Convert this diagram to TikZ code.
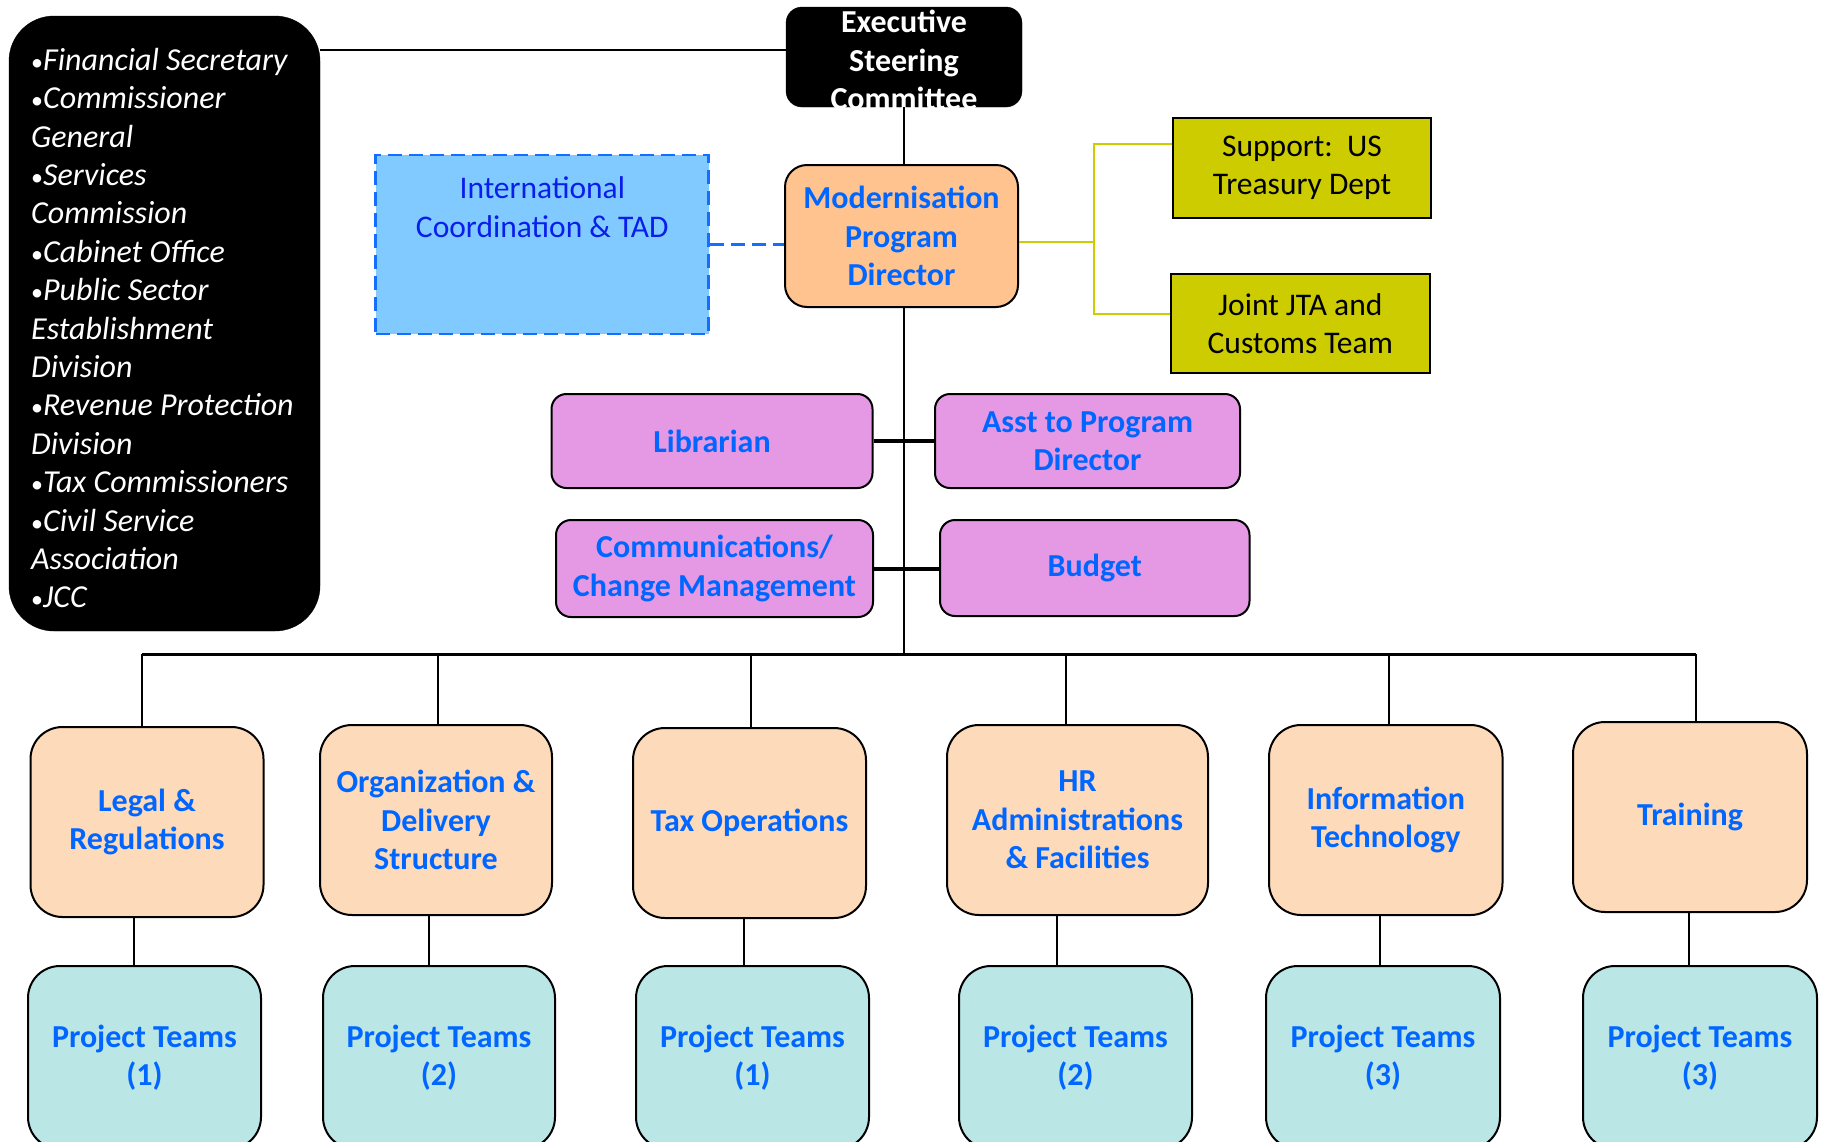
\documentclass[tikz,border=0pt]{standalone}
\usepackage{fontspec}
\setmainfont{Carlito}
\definecolor{mpdfill}{RGB}{255,195,143}
\definecolor{peach}{RGB}{253,218,185}
\definecolor{ptfill}{RGB}{186,230,230}
\definecolor{purp}{RGB}{229,153,229}
\definecolor{olive}{RGB}{204,204,0}
\definecolor{intlfill}{RGB}{128,202,255}
\definecolor{tblue}{RGB}{0,102,255}
\definecolor{iblue}{RGB}{10,30,235}
\definecolor{dblue}{RGB}{20,110,255}
\newcommand{\bul}{{\fontsize{24}{0}\selectfont\upshape •}}
\begin{document}
\begin{tikzpicture}[x=1pt,y=-1pt,
  txt/.style={font=\fontsize{31.5}{38.4}\selectfont, align=center, inner sep=0pt},
  bbox/.style={draw=black, line width=2pt, inner sep=0pt, align=center,
     font=\fontsize{32}{38.4}\selectfont\bfseries, text=tblue},
  purpbox/.style={bbox, fill=purp, rounded corners=15pt},
  unitbox/.style={bbox, fill=peach, rounded corners=32pt, minimum height=190pt},
  ptbox/.style={bbox, fill=ptfill, rounded corners=32pt, minimum height=183pt},
  olivebox/.style={draw=black, line width=2pt, fill=olive, inner sep=0pt, align=center,
     font=\fontsize{31.5}{38.4}\selectfont, text=black},
  conn/.style={draw=black, line width=2.2pt},
  thickconn/.style={draw=black, line width=4pt},
  yline/.style={draw=olive, line width=2.2pt},
  dline/.style={draw=dblue, line width=2.8pt, dash pattern=on 14pt off 7pt}
]
\useasboundingbox (0,0) rectangle (1826,1141);
\fill[white] (0,0) rectangle (1826,1141);

% black stakeholders box
\node[draw=black, fill=black, rounded corners=45pt, minimum width=311pt, minimum height=615pt, inner sep=0pt] (list) at (164.5,323.5) {};
\node[txt, anchor=west, align=left, text=white, font=\fontsize{32}{38.4}\selectfont\itshape] (listtxt) at (31,328)
 {\bul Financial Secretary\\\bul Commissioner\\General\\\bul Services\\Commission\\\bul Cabinet Office\\\bul Public Sector\\Establishment\\Division\\\bul Revenue Protection\\Division\\\bul Tax Commissioners\\\bul Civil Service\\Association\\\bul JCC};

% executive steering committee
\node[draw=black, fill=black, rounded corners=16pt, minimum width=236pt, minimum height=100pt, inner sep=0pt] (exec) at (904,57) {};
\node[txt, text=white, font=\fontsize{32}{38.4}\selectfont\bfseries] (exectxt) at (904,60) {Executive\\Steering\\Committee};

% modernisation program director
\node[bbox, fill=mpdfill, rounded corners=22pt, minimum width=233pt, minimum height=142pt] (mpd) at (901.5,236) {Modernisation\\Program\\Director};

% international coordination
\node[draw=dblue, line width=2.8pt, dash pattern=on 14pt off 7pt, fill=intlfill, minimum width=333pt, minimum height=179pt, inner sep=0pt] (intl) at (542.3,244.5) {};
\node[txt, text=iblue] (intltxt) at (542.3,207) {International\\Coordination \& TAD};

% olive boxes
\node[olivebox, minimum width=258pt, minimum height=100pt] (sup) at (1302,168) {Support:\ \ US\\Treasury Dept};
\node[olivebox, minimum width=259pt, minimum height=99pt] (joint) at (1300.3,323.5) {Joint JTA and\\Customs Team};

% purple staff boxes
\node[purpbox, minimum width=321pt, minimum height=94pt] (lib) at (712,441) {Librarian};
\node[purpbox, minimum width=305pt, minimum height=94pt] (asst) at (1087.5,441) {Asst to Program\\Director};
\node[purpbox, minimum width=317pt, minimum height=97pt] (comm) at (714.5,568.5) {Communications/\\Change Management};
\node[purpbox, minimum width=309.5pt, minimum height=96pt] (budget) at (1094.75,568) {Budget};

% units
\node[unitbox, minimum width=233pt] (legal) at (147,822) {Legal \&\\Regulations};
\node[unitbox, minimum width=232pt] (org) at (436,820) {Organization \&\\Delivery\\Structure};
\node[unitbox, minimum width=233pt] (tax) at (749.5,823) {Tax Operations};
\node[unitbox, minimum width=261pt] (hr) at (1077.5,820) {HR\\Administrations\\\& Facilities};
\node[unitbox, minimum width=233.5pt] (it) at (1385.75,820) {Information\\Technology};
\node[unitbox, minimum width=234pt] (train) at (1690,817) {Training};

% project teams
\node[ptbox, minimum width=233pt] (pt1) at (144.5,1057.5) {Project Teams\\(1)};
\node[ptbox, minimum width=232pt] (pt2) at (439,1057.5) {Project Teams\\(2)};
\node[ptbox, minimum width=233pt] (pt3) at (752.5,1057.5) {Project Teams\\(1)};
\node[ptbox, minimum width=233pt] (pt4) at (1075.5,1057.5) {Project Teams\\(2)};
\node[ptbox, minimum width=234pt] (pt5) at (1383,1057.5) {Project Teams\\(3)};
\node[ptbox, minimum width=234pt] (pt6) at (1700,1057.5) {Project Teams\\(3)};

% connectors
\draw[conn] ([yshift=7pt]exec.west) coordinate (e1) -- (e1 -| list.east);
\draw[conn] (exec.south) -- (exec.south |- mpd.north);
\coordinate (busL) at (142,654);
\coordinate (busR) at (1696,654);
\draw[conn] (exec.south |- mpd.south) -- (exec.south |- busL);
\draw[dline] (intl.east) -- (intl.east -| mpd.west);
\coordinate (yj) at (1094,242);
\draw[yline] ([yshift=-6pt]mpd.east) -- (yj);
\draw[yline] ([yshift=24pt]sup.west) -| (yj) |- ([yshift=9.5pt]joint.west);
\draw[thickconn] (lib.east) -- (asst.west);
\draw[thickconn] (comm.east) -- (comm.east -| budget.west);
\draw[conn, line width=3pt] (busL) -- (busR);

\draw[conn] ([xshift=-5pt]legal.north) -- ([xshift=-5pt]legal.north |- busL);
\draw[conn] ([xshift=2pt]org.north) -- ([xshift=2pt]org.north |- busL);
\draw[conn] ([xshift=1.5pt]tax.north) -- ([xshift=1.5pt]tax.north |- busL);
\draw[conn] ([xshift=-11.5pt]hr.north) -- ([xshift=-11.5pt]hr.north |- busL);
\draw[conn] ([xshift=3pt]it.north) -- ([xshift=3pt]it.north |- busL);
\draw[conn] ([xshift=6pt]train.north) -- ([xshift=6pt]train.north |- busL);

\draw[conn] ([xshift=-13pt]legal.south) -- ([xshift=-13pt]legal.south |- pt1.north);
\draw[conn] ([xshift=-7pt]org.south) -- ([xshift=-7pt]org.south |- pt2.north);
\draw[conn] ([xshift=-5.5pt]tax.south) -- ([xshift=-5.5pt]tax.south |- pt3.north);
\draw[conn] ([xshift=-20.5pt]hr.south) -- ([xshift=-20.5pt]hr.south |- pt4.north);
\draw[conn] ([xshift=-6pt]it.south) -- ([xshift=-6pt]it.south |- pt5.north);
\draw[conn] ([xshift=-1pt]train.south) -- ([xshift=-1pt]train.south |- pt6.north);
\end{tikzpicture}
\end{document}
